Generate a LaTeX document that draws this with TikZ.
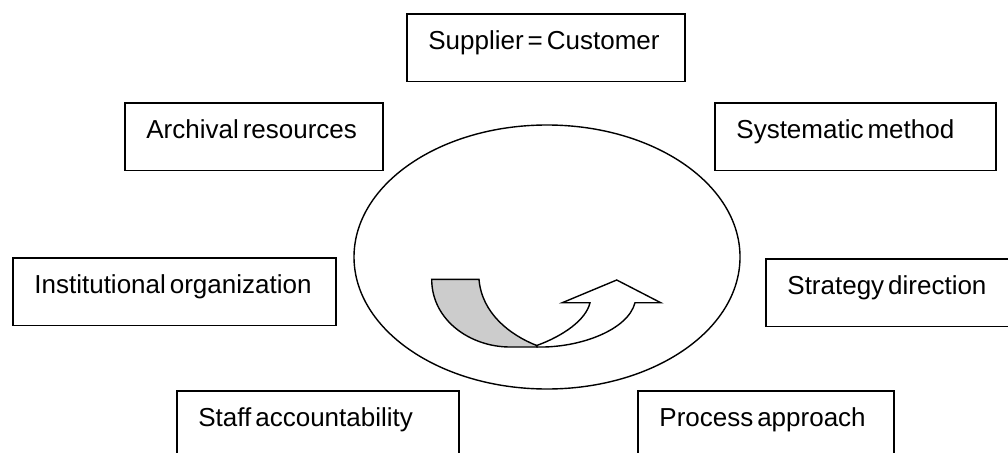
\documentclass[tikz,border=0pt]{standalone}
\usepackage{fontspec}
\setmainfont{Liberation Sans}[WordSpace=0.55]
\usetikzlibrary{shapes.geometric}
\begin{document}
\begin{tikzpicture}[x=1pt,y=-1pt,
  topic/.style={draw, line width=1.8pt, anchor=north west,
    minimum height=67.5pt, inner xsep=21.5pt, inner ysep=0pt,
    text height=20pt, text depth=15.5pt,
    font=\fontsize{26}{30}\selectfont},
  band/.style={line width=1.4pt, line join=miter, draw=black}]
\useasboundingbox (0,0) rectangle (1008,452);
\clip (0,0) rectangle (1008,452);

% central cycle
\node[draw, ellipse, line width=1.4pt, minimum width=386pt,
  minimum height=264pt, inner sep=0pt] (core) at (547,257) {};

% surrounding principles
\node[topic] (sup) at (406,13)  {\makebox[235pt][l]{Supplier = Customer}};
\node[topic] (arc) at (124,102) {\makebox[215pt][l]{Archival resources}};
\node[topic] (sys) at (714,102) {\makebox[238pt][l]{Systematic method}};
\node[topic] (ins) at (12,257)  {\makebox[280pt][l]{Institutional organization}};
\node[topic] (str) at (765,258) {\makebox[227pt][l]{Strategy direction}};
\node[topic] (sta) at (176,390) {\makebox[239pt][l]{Staff accountability}};
\node[topic] (pro) at (637,390) {\makebox[213pt][l]{Process approach}};

% U-turn arrow: grey tail
\filldraw[band, fill=black!20]
  (431.7,279.3) -- (479,279.3)
  .. controls (481.7,313.3) and (510,335) .. (536.7,345.5)
  -- (537,347) -- (510,347)
  .. controls (470,347) and (431.7,320) .. (431.7,279.3) -- cycle;

% U-turn arrow: white head
\filldraw[band, fill=white]
  (537,347) .. controls (580,348) and (628,330) .. (635,302.7)
  -- (660.7,302.7) -- (616.7,280) -- (562.3,302.7) -- (590,302.7)
  .. controls (586,320) and (563,336) .. (536.7,345.5) -- cycle;
\end{tikzpicture}
\end{document}
